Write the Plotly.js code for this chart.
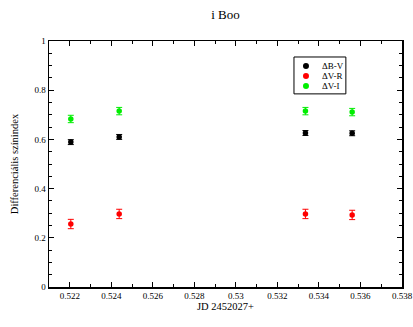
<!DOCTYPE html>
<html><head><meta charset="utf-8">
<script src="https://cdn.plot.ly/plotly-3.0.1.min.js"></script>
<style>body{margin:0;padding:0;background:#fff}#chart{width:413px;height:327px}</style>
</head><body><div id="chart"></div>
<script>
const jd = [0.52205, 0.52438, 0.53335, 0.53560];
const bv = [0.589, 0.610, 0.626, 0.625];
const bvErr = [0.010, 0.010, 0.010, 0.010];
const vr = [0.256, 0.297, 0.297, 0.293];
const vrErr = [0.019, 0.019, 0.019, 0.019];
const vi = [0.683, 0.715, 0.715, 0.711];
const viErr = [0.015, 0.015, 0.015, 0.015];
const seriesNames = ['\u0394B-V', '\u0394V-R', '\u0394V-I'];
const seriesColors = ['#000000', '#ff0000', '#00ee00'];
const xTicks = [0.522, 0.524, 0.526, 0.528, 0.53, 0.532, 0.534, 0.536, 0.538];
const xTickText = ['0.522','0.524','0.526','0.528','0.53','0.532','0.534','0.536','0.538'];
const yTicks = [0, 0.2, 0.4, 0.6, 0.8, 1];
const yTickText = ['0','0.2','0.4','0.6','0.8','1'];

function tr(y, err, name, color) {
  return {x: jd, y: y, name: name, type: 'scatter', mode: 'markers',
    marker: {color: color, size: 5.5},
    error_y: {type: 'data', array: err, visible: true, color: color, thickness: 1, width: 3}};
}
const data = [tr(bv, bvErr, seriesNames[0], seriesColors[0]), tr(vr, vrErr, seriesNames[1], seriesColors[1]), tr(vi, viErr, seriesNames[2], seriesColors[2])];
const fam = '"Liberation Serif", "Times New Roman", serif';
const font = {family: fam, color: '#000', size: 9};

// custom compact legend (box, symbols, labels)
const legRowsY = [0.898, 0.858, 0.817];
const shapes = [{type: 'rect', xref: 'paper', yref: 'paper', x0: 0.694, x1: 0.841, y0: 0.785, y1: 0.935,
  line: {color: '#000', width: 1}, fillcolor: '#fff', layer: 'above'}];
const annotations = [];
seriesNames.forEach((n, i) => {
  shapes.push({type: 'circle', xref: 'paper', yref: 'paper', xsizemode: 'pixel', ysizemode: 'pixel',
    xanchor: 0.728, yanchor: legRowsY[i], x0: -3, x1: 3, y0: -3, y1: 3,
    fillcolor: seriesColors[i], line: {color: seriesColors[i], width: 0}, layer: 'above'});
  annotations.push({xref: 'paper', yref: 'paper', x: 0.768, y: legRowsY[i], xanchor: 'left', yanchor: 'middle',
    text: n, showarrow: false, font: {family: fam, size: 9, color: '#000'}});
});

const layout = {
  width: 413, height: 327,
  margin: {l: 49, r: 11, t: 41, b: 40},
  paper_bgcolor: '#fff', plot_bgcolor: '#fff',
  font: font,
  showlegend: false,
  title: {text: 'i Boo', font: {family: fam, size: 13, color: '#000'}, x: 0.5, xanchor: 'center', y: 0.955, yanchor: 'middle', xref: 'paper'},
  xaxis: {range: [0.521, 0.538], tickvals: xTicks, ticktext: xTickText, ticks: 'inside', ticklen: 5, tickwidth: 1, tickcolor: '#000',
    minor: {dtick: 0.001, tick0: 0.521, ticks: 'inside', ticklen: 3, tickcolor: '#000'},
    showline: true, linecolor: '#000', linewidth: 1.5, mirror: 'ticks', showgrid: false, zeroline: false,
    title: {text: 'JD 2452027+', font: {size: 10.5}, standoff: 0}},
  yaxis: {range: [0, 1], tickvals: yTicks, ticktext: yTickText, ticks: 'inside', ticklen: 5, tickwidth: 1, tickcolor: '#000',
    minor: {dtick: 0.05, tick0: 0, ticks: 'inside', ticklen: 3, tickcolor: '#000'},
    showline: true, linecolor: '#000', linewidth: 1.5, mirror: 'ticks', showgrid: false, zeroline: false,
    title: {text: 'Differenciális színindex', font: {size: 10.5}, standoff: 14}},
  shapes: shapes,
  annotations: annotations
};
Plotly.newPlot('chart', data, layout, {displayModeBar: false, staticPlot: true});
</script></body></html>
